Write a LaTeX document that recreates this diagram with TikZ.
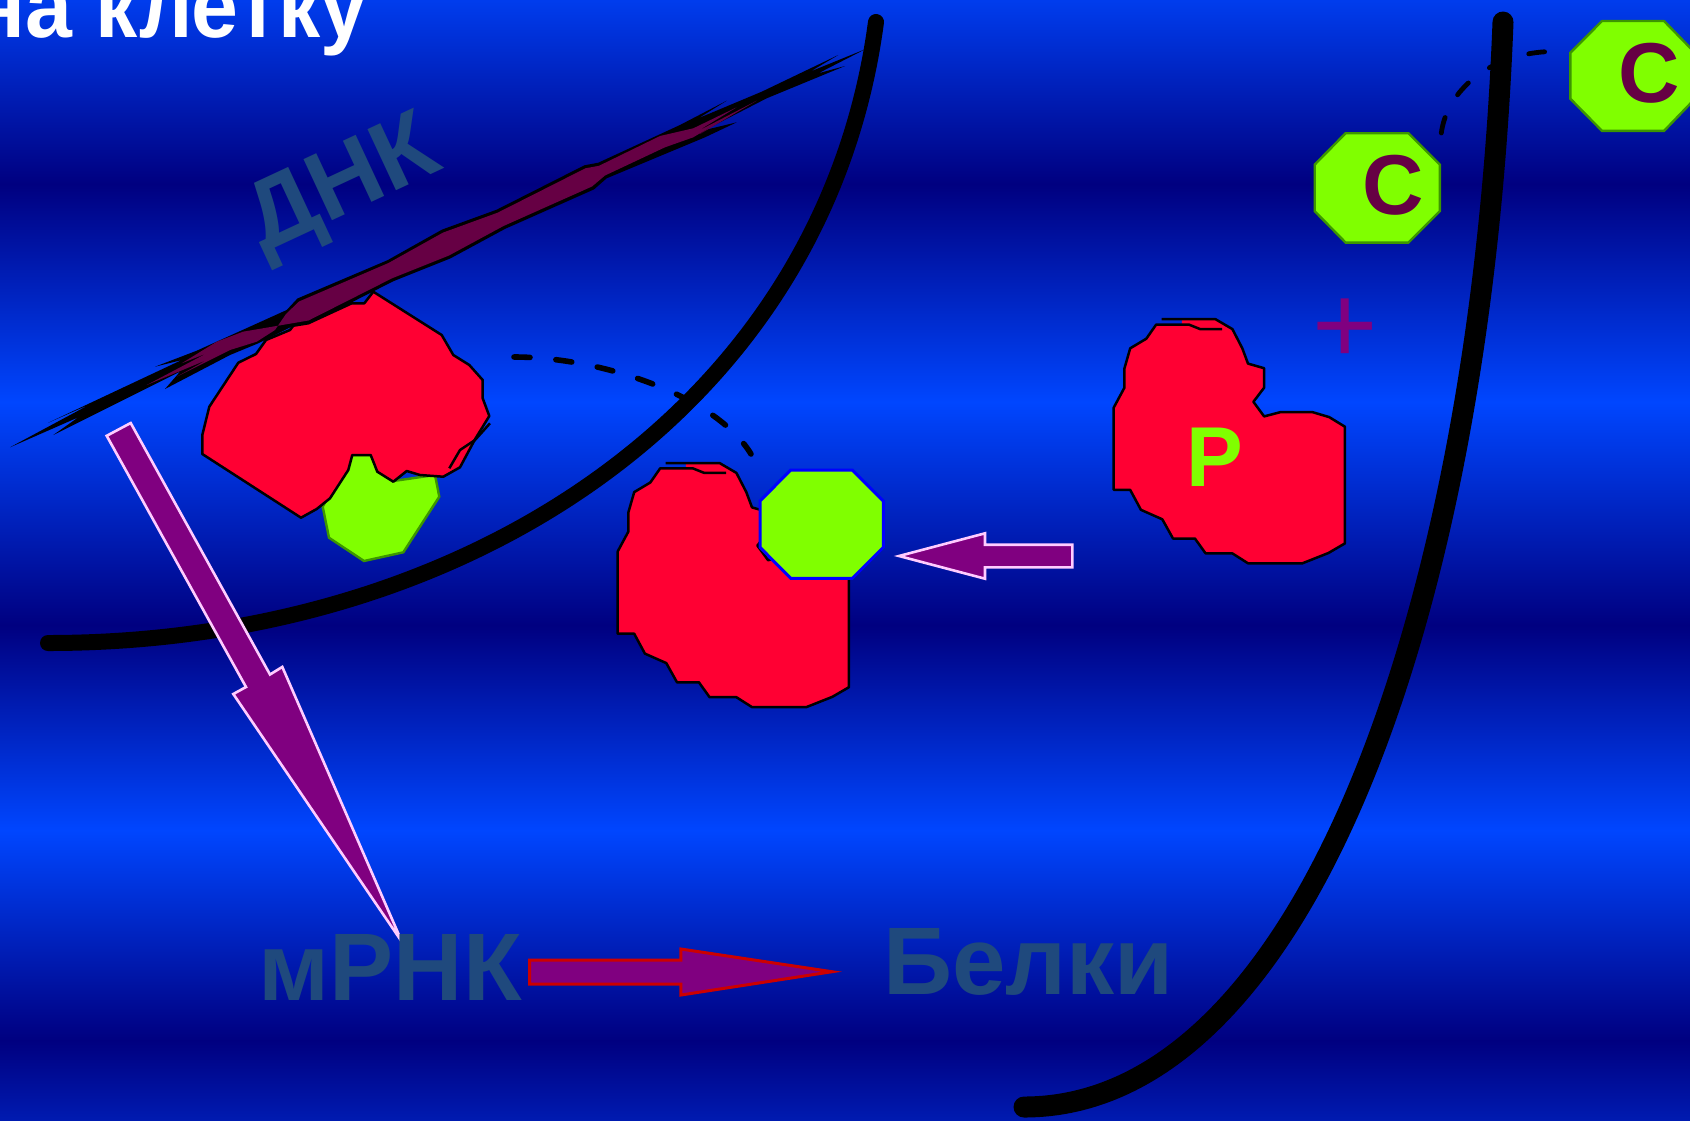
\documentclass[tikz,border=0pt]{standalone}
\usepackage{fontspec}
\setmainfont{Liberation Sans}
\definecolor{bgbright}{HTML}{0046FF}
\definecolor{bgdark}{HTML}{000080}
\definecolor{receptorred}{HTML}{FF0033}
\definecolor{ligand}{HTML}{80FF00}
\definecolor{ligandedge}{HTML}{3C9600}
\definecolor{maroon}{HTML}{660044}
\definecolor{plum}{HTML}{800080}
\definecolor{paleedge}{HTML}{FFCCFF}
\definecolor{arroweedge}{HTML}{CC0000}
\definecolor{slateblue}{HTML}{1F497D}
\tikzset{
  membrane/.style={line width=#1, line cap=round, black},
  receptor edge/.style={draw=black, line width=1.25pt, line join=round},
  ligand body/.style={fill=ligand, draw=#1, line width=1.2pt},
  pale arrow/.style={fill=plum, draw=paleedge, line width=1.3pt, miter limit=30},
  red arrow/.style={fill=plum, draw=arroweedge, line width=1.5pt},
  dash line/.style={black, line width=#1, line cap=round, dash pattern=on 8pt off 13pt},
  dash line/.default=2.8pt,
  label text/.style={inner sep=0pt, text=slateblue, font=\bfseries\fontsize{48}{48}\selectfont},
  mark text/.style={inner sep=0pt, font=\bfseries\fontsize{43}{43}\selectfont},
  receptor/.pic={
    \fill[receptorred] (1156.2,324.5) -- (1181.8,324.5) -- (1181.8,319.2) -- (1215.5,319.2)
      -- (1232.4,329.1) -- (1242.3,348.3) -- (1248,363.6) -- (1264.1,368.2) -- (1264.1,387.7)
      -- (1253.4,401.8) -- (1264.1,416.4) -- (1280.2,412.2) -- (1312.7,412.2) -- (1329.2,417.1)
      -- (1344.9,426.7) -- (1344.9,543.4) -- (1328.4,553) -- (1302.4,563.3) -- (1248,563.3)
      -- (1232.4,553.4) -- (1205.6,553.4) -- (1194.9,538.5) -- (1173,538.5) -- (1162.3,519.3)
      -- (1140.9,509.8) -- (1130.2,489.9) -- (1113.7,489.9) -- (1113.7,407.6) -- (1124.4,387.7)
      -- (1124.4,368.5) -- (1130.2,348.3) -- (1146.3,338.7) -- cycle;
    \draw[receptor edge] (1161.6,319.2) -- (1215.5,319.2)
      -- (1232.4,329.1) -- (1242.3,348.3) -- (1248,363.6) -- (1264.1,368.2) -- (1264.1,387.7)
      -- (1253.4,401.8) -- (1264.1,416.4) -- (1280.2,412.2) -- (1312.7,412.2) -- (1329.2,417.1)
      -- (1344.9,426.7) -- (1344.9,543.4) -- (1328.4,553) -- (1302.4,563.3) -- (1248,563.3)
      -- (1232.4,553.4) -- (1205.6,553.4) -- (1194.9,538.5) -- (1173,538.5) -- (1162.3,519.3)
      -- (1140.9,509.8) -- (1130.2,489.9) -- (1113.7,489.9) -- (1113.7,407.6) -- (1124.4,387.7)
      -- (1124.4,368.5) -- (1130.2,348.3) -- (1146.3,338.7) -- (1156.2,324.5) -- (1188.7,324.5)
      -- (1200.2,329.1) -- (1222,329.1);
  }
}
\begin{document}
\begin{tikzpicture}[x=0.5pt,y=-0.5pt]
\useasboundingbox (0,0) rectangle (1690,1120);
\clip (0,0) rectangle (1690,1120);

% banded background
\shade[top color=bgbright, bottom color=bgdark] (0,-30) rectangle (1690,184.5);
\shade[top color=bgdark, bottom color=bgbright] (0,184) rectangle (1690,402.5);
\shade[top color=bgbright, bottom color=bgdark] (0,402) rectangle (1690,625.5);
\shade[top color=bgdark, bottom color=bgbright] (0,625) rectangle (1690,830.5);
\shade[top color=bgbright, bottom color=bgdark] (0,830) rectangle (1690,1040.5);
\shade[top color=bgdark, bottom color=bgbright] (0,1040) rectangle (1690,1250);

% paths of the ligand through the membranes
\draw[dash line] (514,357) .. controls (600,357) and (715,395) .. (751,454);
\draw[dash line=2.4pt] (1441.3,133) .. controls (1447,90) and (1490,55) .. (1546,51.7);

% DNA strand: black silhouette with frayed ends
\fill[black] (286.7,310) -- (297.4,298.5) -- (387.5,260.2) -- (442,229.6) -- (496.6,209.7)
  -- (584.4,165.3) -- (598.3,162.7) -- (680,125) -- (726.7,100.7) -- (698.3,118.3) -- (761.7,91.7)
  -- (838.3,55) -- (810,71.7) -- (865,49.3) -- (818.3,73.3) -- (845,66) -- (766.7,98.3) -- (705,130)
  -- (736.7,122.3) -- (705,137.3) -- (606.7,178.3) -- (594,189.4) -- (505,228.9) -- (450.6,258.3)
  -- (393.2,281.3) -- (310,323.4) -- (292.8,326) -- (258.3,343.3) -- (230,355) -- (165,389)
  -- (180,371.7) -- (53.3,435) -- (78.3,417.3) -- (10,447.3) -- (90,404.3) -- (48.3,422.7)
  -- (181.7,360) -- (155,366.7) -- (196.7,350.7) -- cycle;
\fill[maroon] (243,331.7) -- (216.7,341.7) -- (181.7,363.3) -- (206.7,353.3) -- (146.7,385)
  -- (206.7,360) -- (176.7,376.7) -- (230,350) -- (256.7,341.7) -- (275,330) -- (286,314) -- (299,301.5)
  -- (388.5,263) -- (443,232.6) -- (497.6,212.7) -- (585.4,168.3) -- (599,165.8) -- (660,136)
  -- (693.3,128.3) -- (736.7,107.3) -- (696.7,131.7) -- (756.7,100.7) -- (700,134)
  -- (726.7,117.3) -- (693.3,137.3) -- (665,147.3) -- (605,175.5) -- (592,186.5) -- (503.5,226)
  -- (449,255.5) -- (391.8,278.4) -- (308.5,320.5) -- cycle;

% outer membranes
\draw[membrane=8pt] (876,22) .. controls (825,405) and (470,643) .. (48,643);
\draw[membrane=10.5pt] (1503,22) .. controls (1480,620) and (1300,1107) .. (1024,1107);

% bound complex on the DNA
\draw[ligand body=ligandedge] (352.3,455) -- (370.7,455) -- (393.3,481) -- (435,475)
  -- (439.3,496.7) -- (403.3,552.3) -- (364,561) -- (329,537.7) -- (322.7,506.7) -- cycle;
\draw[receptor edge, fill=receptorred] (373.3,291.7) -- (441.7,335) -- (453.3,355) -- (469.3,365)
  -- (482.7,380) -- (482.7,398.3) -- (489.3,416) -- (475,439.3) -- (460,467.3) -- (443.3,476.7)
  -- (420,475) -- (406.7,471) -- (393.3,481.7) -- (377.3,471.7) -- (370.7,455) -- (352.3,455)
  -- (348.3,470) -- (330,498.3) -- (316.7,509) -- (301,517.7) -- (202.3,454) -- (202.3,435)
  -- (209.3,406.7) -- (238.3,362.7) -- (256,354) -- (266,340) -- (290,330) -- (293.3,325.7)
  -- (308.3,323.3) -- (351.7,303.3) -- (364.3,303.3) -- cycle;
\draw[receptor edge] (449.3,468.3) -- (460,450) -- (475,440) -- (490,423.3);

% receptor with its ligand, and the free receptor
\pic[shift={(-496,143.8)}] {receptor};
\draw[ligand body=blue, line width=1.5pt] (790.7,470) -- (852.3,470) -- (883.3,501) -- (883.3,547.3)
  -- (852.3,578.3) -- (790.7,578.3) -- (760,547.3) -- (760,501) -- cycle;
\pic {receptor};

% free ligands
\draw[ligand body=ligandedge] (1345.6,133.2) -- (1408.4,133.2) -- (1439.8,164.6) -- (1439.8,211.2)
  -- (1408.4,242.6) -- (1345.6,242.6) -- (1314.7,211.2) -- (1314.7,164.6) -- cycle;
\draw[ligand body=ligandedge] (1602,21) -- (1664,21) -- (1695,52.8) -- (1695,98.7)
  -- (1664,130.9) -- (1602,130.9) -- (1570.3,98.7) -- (1570.3,52.8) -- cycle;

% block arrows
\draw[pale arrow] (106.7,435.8) -- (130.7,423) -- (270,674.5) -- (282.3,666.9) -- (402,942)
  -- (233.3,694) -- (246,687) -- cycle;
\draw[pale arrow] (899,556) -- (985,533.3) -- (985,544.7) -- (1072.3,544.7) -- (1072.3,567.3)
  -- (985,567.3) -- (985,578.7) -- cycle;
\draw[red arrow] (529.7,960) -- (680.9,960) -- (680.9,949) -- (832,971.7) -- (680.9,995)
  -- (680.9,984) -- (529.7,984) -- cycle;

% labels
\node[mark text, text=white, anchor=base east] (title) at (368,37) {\scalebox{0.98}[1.04]{на клетку}};
\node[label text, font=\bfseries\fontsize{49}{49}\selectfont, rotate=25] (dnk) at (344,189) {ДНК};
\node[label text, anchor=base west] (mrna) at (258.5,1000) {мРНК};
\node[label text, anchor=base west] (proteins) at (883,994) {Белки};
\node[mark text, text=maroon, font=\bfseries\fontsize{42.5}{42.5}\selectfont] (ligandA) at (1392.7,185.2) {С};
\node[mark text, text=maroon, font=\bfseries\fontsize{42.5}{42.5}\selectfont] (ligandB) at (1648.7,73.3) {С};
\node[mark text, text=ligand, font=\bfseries\fontsize{42.5}{42.5}\selectfont] (receptorP) at (1215,457.7) {Р};
\node[inner sep=0pt, text=plum, font=\fontsize{56}{56}\selectfont] (plus) at (1345.5,331) {+};
\end{tikzpicture}
\end{document}
